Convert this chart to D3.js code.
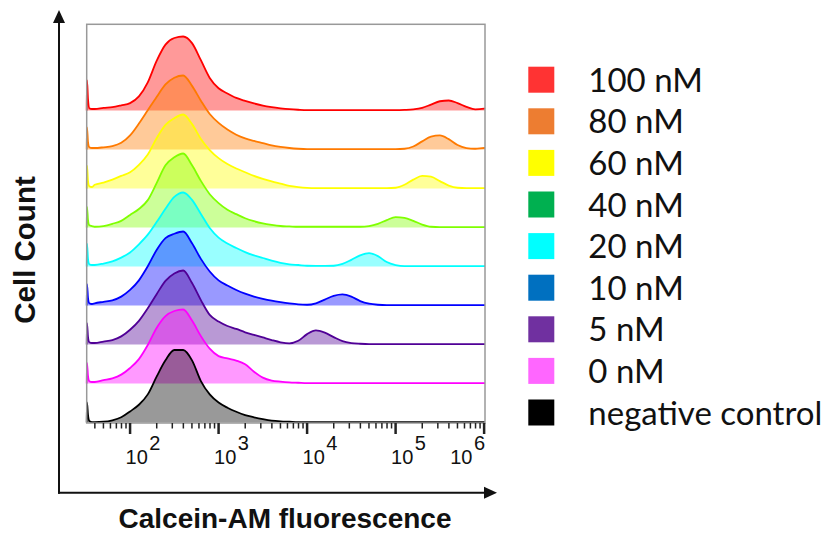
<!DOCTYPE html>
<html>
<head>
<meta charset="utf-8">
<script src="https://cdn.jsdelivr.net/npm/d3@7"></script>
<style>
  body { margin: 0; background: #fff; }
  svg { display: block; }
</style>
</head>
<body>
<svg width="837" height="534"></svg>
<script>
// ************** data *****************
// x positions as log10(fluorescence)
var logX = [1.51, 1.513, 1.525, 1.54, 1.57,
    1.6, 1.7, 1.8, 1.9, 2.0, 2.1, 2.2, 2.3, 2.4, 2.5, 2.6, 2.7, 2.8, 2.9, 3.0, 3.1, 3.2, 3.3, 3.4, 3.5, 3.6, 3.7, 3.8, 3.9,
    4.0, 4.1, 4.2, 4.3, 4.4, 4.5, 4.6, 4.7, 4.8, 4.9, 5.0, 5.1, 5.2, 5.3, 5.4, 5.5, 5.6, 5.7, 5.8, 5.9, 6.0, 6.01];

var nM100 = [0, 0.41, 0.15, 0.03, 0.02,
    0.02, 0.035, 0.045, 0.07, 0.10, 0.19, 0.38, 0.67, 0.89, 0.98, 1.0, 0.91, 0.68, 0.44, 0.30, 0.23, 0.17, 0.13, 0.095, 0.065, 0.045, 0.03, 0.018, 0.01,
    0.005, 0.005, 0.005, 0.005, 0.005, 0.005, 0.005, 0.005, 0.005, 0.005, 0.005, 0.008, 0.015, 0.035, 0.08, 0.125, 0.135, 0.10, 0.05, 0.015, 0.025, 0.03];
var nM80 = [0, 0.30, 0.10, 0.03, 0.02,
    0.02, 0.03, 0.045, 0.09, 0.19, 0.35, 0.53, 0.71, 0.88, 0.97, 1.0, 0.86, 0.66, 0.48, 0.36, 0.27, 0.20, 0.15, 0.115, 0.085, 0.055, 0.035, 0.02, 0.01,
    0.005, 0.005, 0.005, 0.005, 0.005, 0.005, 0.005, 0.005, 0.005, 0.005, 0.005, 0.01, 0.04, 0.11, 0.175, 0.19, 0.14, 0.06, 0.02, 0.01, 0.02, 0.02];
var nM60 = [0, 0.31, 0.10, 0.03, 0.02,
    0.05, 0.08, 0.12, 0.17, 0.22, 0.32, 0.46, 0.68, 0.86, 0.95, 1.0, 0.87, 0.67, 0.52, 0.41, 0.33, 0.27, 0.22, 0.17, 0.13, 0.095, 0.065, 0.035, 0.018,
    0.008, 0.005, 0.005, 0.005, 0.005, 0.005, 0.005, 0.005, 0.005, 0.005, 0.01, 0.05, 0.12, 0.17, 0.16, 0.10, 0.04, 0.01, 0.005, 0.005, 0.005, 0.005];
var nM40 = [0, 0.28, 0.10, 0.03, 0.02,
    0.01, 0.02, 0.05, 0.09, 0.17, 0.25, 0.37, 0.60, 0.84, 0.95, 1.0, 0.84, 0.63, 0.45, 0.33, 0.24, 0.18, 0.125, 0.085, 0.055, 0.035, 0.02, 0.015, 0.01,
    0.01, 0.01, 0.01, 0.01, 0.01, 0.01, 0.01, 0.02, 0.05, 0.10, 0.14, 0.13, 0.09, 0.04, 0.01, 0.005, 0.005, 0.005, 0.005, 0.005, 0.005, 0.005];
var nM20 = [0, 0.31, 0.10, 0.03, 0.02,
    0.02, 0.04, 0.07, 0.12, 0.19, 0.30, 0.43, 0.60, 0.78, 0.94, 1.0, 0.90, 0.71, 0.52, 0.39, 0.31, 0.25, 0.195, 0.15, 0.115, 0.08, 0.05, 0.03, 0.02,
    0.01, 0.008, 0.008, 0.01, 0.035, 0.09, 0.15, 0.18, 0.14, 0.06, 0.02, 0.005, 0.005, 0.005, 0.005, 0.005, 0.005, 0.005, 0.005, 0.005, 0.005, 0.005];
var nM10 = [0, 0.29, 0.10, 0.03, 0.02,
    0.03, 0.05, 0.07, 0.12, 0.21, 0.34, 0.53, 0.75, 0.91, 0.97, 1.0, 0.84, 0.63, 0.46, 0.34, 0.27, 0.21, 0.16, 0.12, 0.09, 0.065, 0.045, 0.028, 0.015,
    0.01, 0.03, 0.08, 0.13, 0.15, 0.12, 0.06, 0.025, 0.01, 0.005, 0.005, 0.005, 0.005, 0.005, 0.005, 0.005, 0.005, 0.005, 0.005, 0.005, 0.005, 0.005];
var nM5 = [0, 0.29, 0.10, 0.03, 0.02,
    0.02, 0.04, 0.06, 0.11, 0.20, 0.32, 0.49, 0.68, 0.86, 0.96, 1.0, 0.83, 0.60, 0.40, 0.31, 0.25, 0.21, 0.165, 0.13, 0.095, 0.06, 0.03, 0.015, 0.05,
    0.14, 0.19, 0.16, 0.10, 0.045, 0.02, 0.01, 0.005, 0.005, 0.005, 0.005, 0.005, 0.005, 0.005, 0.005, 0.005, 0.005, 0.005, 0.005, 0.005, 0.005, 0.005];
var nM0 = [0, 0.28, 0.10, 0.03, 0.02,
    0.02, 0.045, 0.07, 0.12, 0.21, 0.33, 0.52, 0.75, 0.91, 0.98, 1.0, 0.85, 0.64, 0.47, 0.37, 0.34, 0.31, 0.26, 0.16, 0.08, 0.04, 0.025, 0.015, 0.01,
    0.005, 0.005, 0.005, 0.005, 0.005, 0.005, 0.005, 0.005, 0.005, 0.005, 0.005, 0.005, 0.005, 0.005, 0.005, 0.005, 0.005, 0.005, 0.005, 0.005, 0.005, 0.005];
var negControl = [0, 0.27, 0.10, 0.02, 0.005,
    0.005, 0.01, 0.03, 0.07, 0.15, 0.24, 0.38, 0.62, 0.84, 0.98, 0.98, 0.84, 0.56, 0.38, 0.27, 0.20, 0.145, 0.10, 0.07, 0.045, 0.025, 0.015, 0.01, 0.005,
    0.005, 0.005, 0.005, 0.005, 0.005, 0.005, 0.005, 0.005, 0.005, 0.005, 0.005, 0.005, 0.005, 0.005, 0.005, 0.005, 0.005, 0.005, 0.005, 0.005, 0.005, 0.005];

var labels = ["100 nM", "80 nM", "60 nM", "40 nM", "20 nM", "10 nM", "5 nM", "0 nM", "negative control"];
var seriesValues = [nM100, nM80, nM60, nM40, nM20, nM10, nM5, nM0, negControl];
var curveColors = ["#ff0000", "#ff7a00", "#ffff00", "#7fff00", "#00ffff", "#0000ff", "#500096", "#ff00ff", "#000000"];
var legendColors = ["#ff3333", "#ed7d31", "#ffff00", "#00b050", "#00ffff", "#0070c0", "#7030a0", "#ff66ff", "#000000"];
var tickExps = [2, 3, 4, 5, 6];

// ************** scales *****************
var svg = d3.select("svg");

var x = d3.scaleLog()
    .domain([Math.pow(10, 1.51), Math.pow(10, 6.01)])
    .range([86.7, 485]);

var row = d3.scalePoint()
    .domain(labels)
    .range([110.5, 422.5]);

var h = d3.scaleLinear()
    .domain([0, 1])
    .range([0, 74]);

// ************** histograms *****************
var plot = svg.append("g");

seriesValues.forEach(function (vals, i) {
    var base = row(labels[i]);
    var pts = logX.map(function (l, k) { return [Math.pow(10, l), vals[k]]; });

    var area = d3.area()
        .x(function (d) { return x(d[0]); })
        .y0(base)
        .y1(function (d) { return base - h(d[1]); })
        .curve(d3.curveMonotoneX);

    var line = d3.line()
        .x(function (d) { return x(d[0]); })
        .y(function (d) { return base - h(d[1]); })
        .curve(d3.curveMonotoneX);

    plot.append("path")
        .attr("d", area(pts))
        .attr("fill", curveColors[i])
        .attr("fill-opacity", 0.4);

    plot.append("path")
        .attr("d", line(pts))
        .attr("fill", "none")
        .attr("stroke", curveColors[i])
        .attr("stroke-width", 1.8)
        .attr("stroke-linejoin", "round");
});

// frame
svg.append("rect")
    .attr("x", 86.7)
    .attr("y", 24.3)
    .attr("width", 398.3)
    .attr("height", 398.7)
    .attr("fill", "none")
    .attr("stroke", "#999")
    .attr("stroke-width", 1.5);

// ************** x ticks *****************
var ticks = x.ticks().filter(function (t) { return t >= x.domain()[0] && t <= x.domain()[1]; });
svg.append("g").selectAll("line")
    .data(ticks)
    .enter()
    .append("line")
    .attr("x1", function (d) { return x(d); })
    .attr("x2", function (d) { return x(d); })
    .attr("y1", 423)
    .attr("y2", function (d) {
        var l = Math.log10(d);
        return Math.abs(l - Math.round(l)) < 1e-6 ? 434 : 428.5;
    })
    .attr("stroke", "#222")
    .attr("stroke-width", function (d) {
        var l = Math.log10(d);
        return Math.abs(l - Math.round(l)) < 1e-6 ? 2.5 : 1.5;
    });

var tl = svg.append("g").selectAll("text")
    .data(tickExps)
    .enter()
    .append("text")
    .attr("x", function (d, i) { return i === tickExps.length - 1 ? x(Math.pow(10, d)) + 1 : x(Math.pow(10, d)) - 4.5; })
    .attr("y", 463.5)
    .attr("text-anchor", function (d, i) { return i === tickExps.length - 1 ? "end" : "start"; })
    .style("font-family", "'Liberation Sans', Arial, sans-serif")
    .style("font-size", "20px")
    .attr("fill", "#111");
tl.append("tspan").text("10");
tl.append("tspan")
    .attr("dx", 1.5)
    .attr("dy", -14)
    .style("font-size", "20px")
    .text(function (d) { return d; });

// ************** outer axes with arrows *****************
svg.append("line")
    .attr("x1", 59).attr("x2", 59)
    .attr("y1", 20).attr("y2", 493.7)
    .attr("stroke", "#111").attr("stroke-width", 2);
svg.append("path")
    .attr("d", "M59,10L53,23L65,23Z")
    .attr("fill", "#111");

svg.append("line")
    .attr("x1", 58).attr("x2", 487)
    .attr("y1", 492.7).attr("y2", 492.7)
    .attr("stroke", "#111").attr("stroke-width", 2);
svg.append("path")
    .attr("d", "M497,492.7L484,486.7L484,498.7Z")
    .attr("fill", "#111");

// axis titles
svg.append("text")
    .attr("x", 285)
    .attr("y", 528)
    .attr("text-anchor", "middle")
    .style("font-family", "'Liberation Sans', Arial, sans-serif")
    .style("font-size", "28px")
    .style("font-weight", "bold")
    .attr("fill", "#111")
    .text("Calcein-AM fluorescence");

svg.append("text")
    .attr("transform", "translate(35,250) rotate(-90)")
    .attr("text-anchor", "middle")
    .style("font-family", "'Liberation Sans', Arial, sans-serif")
    .style("font-size", "29.5px")
    .style("font-weight", "bold")
    .attr("fill", "#111")
    .text("Cell Count");

// ************** legend *****************
var legRow = d3.scalePoint()
    .domain(labels)
    .range([66.7, 399.5]);

var leg = svg.append("g").selectAll("g")
    .data(labels)
    .enter()
    .append("g")
    .attr("transform", function (d) { return "translate(528.3," + legRow(d) + ")"; });

leg.append("rect")
    .attr("width", 26)
    .attr("height", 26)
    .attr("fill", function (d, i) { return legendColors[i]; });

leg.append("text")
    .attr("x", 60)
    .attr("y", 25)
    .style("font-family", "Lato, 'Open Sans', sans-serif")
    .style("font-size", "33px")
    .attr("fill", "#111")
    .text(function (d) { return d; });
</script>
</body>
</html>
